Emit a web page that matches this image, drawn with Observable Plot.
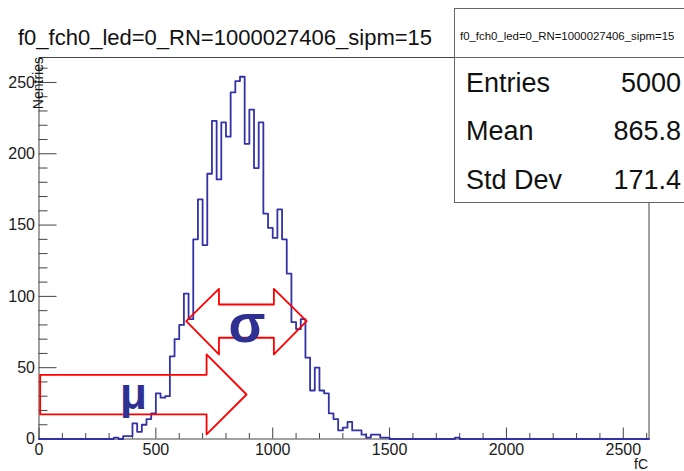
<!DOCTYPE html>
<html><head><meta charset="utf-8">
<script src="https://cdn.jsdelivr.net/npm/d3@7"></script>
<script src="https://cdn.jsdelivr.net/npm/@observablehq/plot@0.6"></script>
<style>
html,body{margin:0;padding:0;background:#fff;}
#chart{width:684px;height:471px;overflow:hidden;position:relative;}
</style></head><body><div id="chart"></div>
<script>
// ---- data ----
const histTitle = "f0_fch0_led=0_RN=1000027406_sipm=15";
const xAxisTitle = "fC";
const yAxisTitle = "Nentries";
const binWidth = 20;
const binStart = [300,320,340,360,380,400,420,440,460,480,500,520,540,560,580,600,620,640,660,680,
  700,720,740,760,780,800,820,840,860,880,900,920,940,960,980,1000,1020,1040,1060,1080,
  1100,1120,1140,1160,1180,1200,1220,1240,1260,1280,1300,1320,1340,1360,1380,1400,1420,1440,1460,1480,1780];
const binCount = [0,1,0,2,2,11,5,10,14,18,32,29,30,58,70,80,102,84,140,168,
  136,186,223,182,222,212,243,251,254,207,231,190,222,158,148,141,161,140,116,82,
  77,84,57,34,50,34,32,18,14,6,8,12,6,6,3,1,3,3,1,1,1];
const xRange = [0, 2610];
const yRange = [0, 267.5];
const xMajorTicks = [0,500,1000,1500,2000,2500];
const xMinorTicks = [100,200,300,400,600,700,800,900,1100,1200,1300,1400,1600,1700,1800,1900,2100,2200,2300,2400,2600];
const yMajorTicks = [0,50,100,150,200,250];
const yMinorTicks = [10,20,30,40,60,70,80,90,110,120,130,140,160,170,180,190,210,220,230,240,260];
const statLabels = ["Entries","Mean","Std Dev"];
const statValues = ["5000","865.8","171.4"];
// annotation shapes in data units (fC, entries)
const muArrowX = [5,717,717,888,717,717,5,5];
const muArrowY = [45,45,59.3,31.2,3.2,17.2,17.2,45];
const sigmaArrowX = [630,770,770,1005,1005,1145,1005,1005,770,770,630];
const sigmaArrowY = [82.6,105.3,94.3,94.3,105.3,82.6,59.3,71,71,59.3,82.6];
const symbols = ["σ","μ"];
const symbolX = [890, 404];
const symbolY = [80, 31];
const symbolSize = [54, 44];

// ---- build ----
const W=684, H=471, mL=38.5, mR=35.5, mT=57, mB=32.5;
const fw = W-mL-mR, fh = H-mT-mB;
const pts = [{x:xRange[0], y:0}];
binStart.forEach((s,i)=>{
  if (i>0 && binStart[i-1]+binWidth < s) pts.push({x:binStart[i-1]+binWidth, y:0});
  pts.push({x:s, y:binCount[i]});
});
pts.push({x:binStart[binStart.length-1]+binWidth, y:0});
pts.push({x:xRange[1], y:0});
const mu = muArrowX.map((x,i)=>({x, y:muArrowY[i]}));
const sg = sigmaArrowX.map((x,i)=>({x, y:sigmaArrowY[i]}));
const sym = symbols.map((t,i)=>({t, x:symbolX[i], y:symbolY[i], s:symbolSize[i]}));
const axisColor = "#444";
const font = "'Liberation Sans', Arial, Helvetica, sans-serif";

const svg = Plot.plot({
  width:W, height:H, marginLeft:mL, marginRight:mR, marginTop:mT, marginBottom:mB,
  style:{fontFamily:font, fontSize:"16px", color:"#1a1a1a", background:"#fff"},
  x:{domain:xRange}, y:{domain:yRange},
  marks:[
    Plot.frame({stroke:axisColor}),
    Plot.tickX(xMinorTicks, {x:d=>d, insetTop: fh-5.5, stroke:axisColor}),
    Plot.tickX(xMajorTicks, {x:d=>d, insetTop: fh-11, stroke:axisColor}),
    Plot.tickY(yMinorTicks, {y:d=>d, insetRight: fw-9, stroke:axisColor}),
    Plot.tickY(yMajorTicks, {y:d=>d, insetRight: fw-18, stroke:axisColor}),
    Plot.axisX(xMajorTicks, {tickSize:0, tickPadding:5, label:null, fontSize:16, tickFormat:d=>String(d)}),
    Plot.axisY(yMajorTicks, {tickSize:0, tickPadding:4, label:null, fontSize:16, tickFormat:d=>String(d)}),
    Plot.line(pts, {x:"x", y:"y", curve:"step-after", stroke:"#3232a6", strokeWidth:1.8}),
    Plot.line(mu, {x:"x", y:"y", stroke:"#ff0000", strokeWidth:1.8}),
    Plot.line(sg, {x:"x", y:"y", stroke:"#ff0000", strokeWidth:1.8}),
    Plot.text(sym, {x:"x", y:"y", text:"t", fontSize:d=>d.s, fontWeight:"bold", fill:"#2e3192", textAnchor:"middle", lineAnchor:"middle"})
  ]
});
document.getElementById("chart").appendChild(svg);

const s = d3.select(svg);
function txt(parent, x, y, size, str, anchor) {
  return parent.append("text").attr("x",x).attr("y",y).attr("font-size",size)
    .attr("font-family",font).attr("fill","#111").attr("text-anchor",anchor||"start").text(str);
}
txt(s, 18, 45, 22, histTitle);
s.append("text").attr("transform","translate(43,57) rotate(-90)").attr("text-anchor","end")
  .attr("font-size",14).attr("font-family",font).attr("fill","#111").text(yAxisTitle);
txt(s, 648, 469, 14, xAxisTitle, "end");
const g = s.append("g");
g.append("rect").attr("x",454.5).attr("y",8.5).attr("width",240).attr("height",194).attr("fill","#fff").attr("stroke","#666");
g.append("line").attr("x1",454.5).attr("x2",690).attr("y1",57.5).attr("y2",57.5).attr("stroke","#666");
txt(g, 460, 40, 11.4, histTitle);
statLabels.forEach((l,i)=>{
  const yb = [92,140,189][i];
  txt(g, 466, yb, 27, l);
  txt(g, 681, yb, 27, statValues[i], "end");
});
</script></body></html>
